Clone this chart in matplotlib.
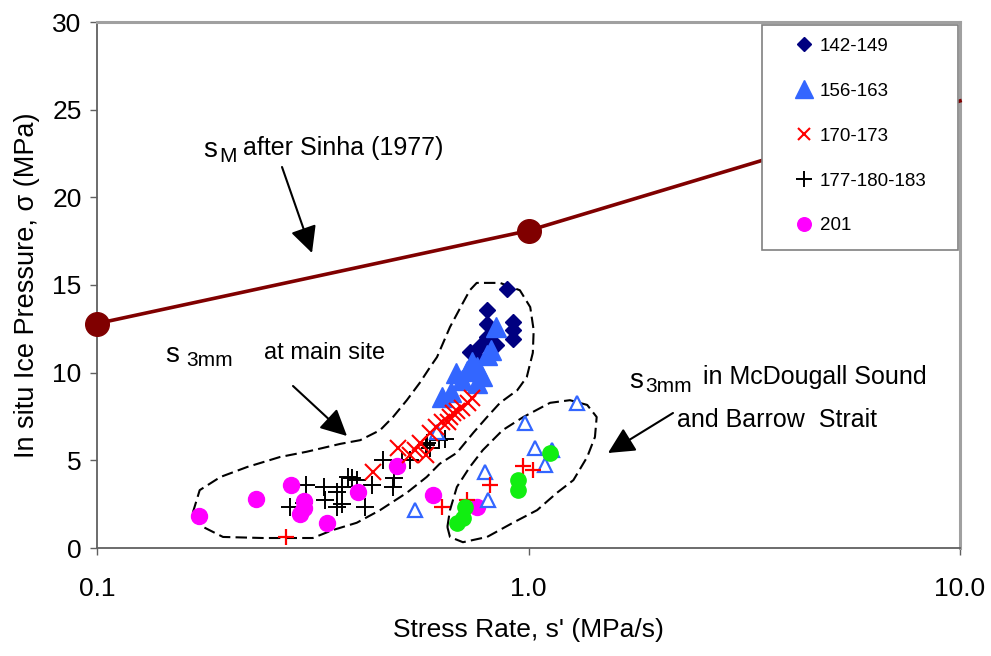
import matplotlib
matplotlib.use("Agg")
import matplotlib.pyplot as plt
from matplotlib.patches import Rectangle
import numpy as np

plt.rcParams['font.family'] = ['Liberation Sans', 'DejaVu Sans']

# ---------------- data ----------------
sinha_x = [0.1, 1.0, 10.0]
sinha_y = [12.8, 18.1, 25.5]

s142_x = [0.89, 0.80, 0.80, 0.92, 0.92, 0.92, 0.80, 0.84, 0.73, 0.77, 0.76]
s142_y = [14.8, 13.55, 12.8, 12.9, 12.45, 11.9, 12.05, 11.6, 11.2, 11.5, 10.9]

s156_x = [0.84, 0.82, 0.80, 0.76, 0.78, 0.72, 0.68, 0.76, 0.63, 0.66, 0.70, 0.74]
s156_y = [12.6, 11.3, 11.0, 10.3, 9.8, 10.1, 10.0, 9.4, 8.6, 8.9, 9.6, 10.6]

s170_x = [0.437, 0.499, 0.53, 0.546, 0.561, 0.58, 0.591, 0.61, 0.63, 0.65, 0.658,
          0.67, 0.682, 0.70, 0.726, 0.74]
s170_y = [4.35, 5.69, 5.3, 5.6, 5.97, 5.3, 6.54, 6.9, 7.2, 7.2, 7.5, 7.7, 7.8,
          8.0, 8.25, 8.55]

s177_x = [0.280, 0.305, 0.302, 0.335, 0.338, 0.359, 0.36, 0.37, 0.382, 0.39, 0.40,
          0.418, 0.433, 0.461, 0.486, 0.488, 0.51, 0.531, 0.58, 0.59, 0.62, 0.581, 0.64, 0.37]
s177_y = [2.32, 3.59, 2.55, 3.5, 2.74, 3.21, 2.36, 3.5, 4.07, 3.98, 3.88, 2.36, 3.59,
          5.02, 3.5, 3.98, 5.02, 5.02, 5.88, 5.7, 6.16, 5.97, 6.2, 2.5]

s201_x = [0.172, 0.233, 0.282, 0.301, 0.302, 0.296, 0.341, 0.403, 0.495, 0.601, 0.759]
s201_y = [1.83, 2.78, 3.59, 2.68, 2.26, 1.94, 1.41, 3.18, 4.68, 3.02, 2.36]

mcd_tri_x = [1.293, 0.981, 1.035, 1.131, 1.092, 0.793, 0.807, 0.546, 0.613]
mcd_tri_y = [8.25, 7.11, 5.69, 5.59, 4.73, 4.35, 2.74, 2.17, 6.63]

mcd_plus_x = [0.274, 0.629, 0.719, 0.814, 0.972, 1.026]
mcd_plus_y = [0.65, 2.36, 2.74, 3.59, 4.68, 4.45]

mcd_green_x = [1.121, 0.947, 0.947, 0.713, 0.706, 0.682]
mcd_green_y = [5.40, 3.88, 3.31, 2.36, 1.69, 1.41]

series_labels = ['142-149', '156-163', '170-173', '177-180-183', '201']
y_ticks = [0, 5, 10, 15, 20, 25, 30]
x_ticks = [0.1, 1.0, 10.0]
x_tick_labels = ['0.1', '1.0', '10.0']

# envelopes (axes-fraction outlines)
main_env_fx = [0.111, 0.119, 0.143, 0.174, 0.212, 0.243, 0.282, 0.305, 0.328, 0.343, 0.359,
               0.374, 0.386, 0.394, 0.409, 0.424, 0.432, 0.440, 0.467, 0.490, 0.502, 0.506,
               0.505, 0.498, 0.487, 0.467, 0.452, 0.436, 0.417, 0.397, 0.382, 0.359, 0.328,
               0.301, 0.273, 0.250, 0.192, 0.146, 0.123, 0.111]
main_env_fy = [0.067, 0.110, 0.135, 0.154, 0.173, 0.183, 0.198, 0.205, 0.224, 0.249, 0.281,
               0.314, 0.344, 0.363, 0.420, 0.466, 0.490, 0.504, 0.504, 0.490, 0.458, 0.414,
               0.371, 0.325, 0.300, 0.276, 0.249, 0.219, 0.181, 0.160, 0.135, 0.105, 0.072,
               0.048, 0.034, 0.019, 0.019, 0.021, 0.040, 0.067]
mcd_env_fx = [0.406, 0.409, 0.417, 0.432, 0.447, 0.470, 0.494, 0.525, 0.548, 0.568, 0.579,
              0.577, 0.568, 0.552, 0.533, 0.510, 0.482, 0.452, 0.424, 0.409, 0.406]
mcd_env_fy = [0.040, 0.072, 0.116, 0.154, 0.186, 0.224, 0.249, 0.276, 0.281, 0.272, 0.249,
              0.211, 0.173, 0.129, 0.105, 0.072, 0.048, 0.021, 0.011, 0.021, 0.040]

# ---------------- figure ----------------
W, H = 991, 656
fig = plt.figure(figsize=(W / 100, H / 100), dpi=100)
ax = fig.add_axes([97 / W, (656 - 548) / H, 863 / W, 526 / H])


def fp(x, y):
    return (x / W, 1 - y / H)


FS_TICK = 19
FS_ANN = 18

ax.set_xscale('log')
ax.set_xlim(0.1, 10.0)
ax.set_ylim(0, 30)

ax.plot(sinha_x, sinha_y, color='#800000', lw=2.6, marker='o', ms=17,
        markevery=[0, 1], zorder=3, clip_on=False)

ax.plot(s142_x, s142_y, ls='none', marker='D', ms=8.5, color='#000080',
        label=series_labels[0], zorder=4)
ax.plot(s156_x, s156_y, ls='none', marker='^', ms=15, color='#3366FF',
        label=series_labels[1], zorder=4)
ax.plot(s170_x, s170_y, ls='none', marker='x', ms=11, mew=1.5, color='#FF0000',
        label=series_labels[2], zorder=5)
ax.plot(s177_x, s177_y, ls='none', marker='+', ms=13, mew=1.4, color='black',
        label=series_labels[3], zorder=4)
ax.plot(s201_x, s201_y, ls='none', marker='o', ms=11.5, color='#FF00FF',
        label=series_labels[4], zorder=4)
ax.plot(mcd_tri_x, mcd_tri_y, ls='none', marker='^', ms=10, mew=1.6,
        mfc='white', mec='#3366FF', zorder=4)
ax.plot(mcd_plus_x, mcd_plus_y, ls='none', marker='+', ms=12, mew=1.6,
        color='#FF0000', zorder=4)
ax.plot(mcd_green_x, mcd_green_y, ls='none', marker='o', ms=11, color='#11EE11', zorder=4)

# envelopes
ax.plot(main_env_fx, main_env_fy, transform=ax.transAxes, color='black', lw=1.5,
        ls=(0, (5.5, 2.5)), zorder=2)
ax.plot(mcd_env_fx, mcd_env_fy, transform=ax.transAxes, color='black', lw=1.5,
        ls=(0, (5.5, 2.5)), zorder=2)

# axes styling
ax.set_yticks(y_ticks)
ax.set_yticklabels([str(v) for v in y_ticks], fontsize=FS_TICK)
ax.set_xticks(x_ticks)
ax.set_xticklabels(x_tick_labels, fontsize=FS_TICK)
ax.xaxis.set_minor_locator(matplotlib.ticker.NullLocator())
ax.tick_params(axis='y', direction='out', length=5, width=1, color='#606060', pad=6)
ax.tick_params(axis='x', direction='out', length=5, width=1, color='#606060', pad=16)
for s in ['left', 'bottom']:
    ax.spines[s].set_color('#606060')
    ax.spines[s].set_linewidth(1.3)
for s in ['top', 'right']:
    ax.spines[s].set_color('#A0A0A0')
    ax.spines[s].set_linewidth(2.2)

ax.set_ylabel('In situ Ice Pressure, σ (MPa)', fontsize=19.5, labelpad=9)
ax.set_xlabel("Stress Rate, s' (MPa/s)", fontsize=19, labelpad=12)

# legend
ax.add_patch(Rectangle((0.771, 0.567), 0.227, 0.427, transform=ax.transAxes,
                       facecolor='white', edgecolor='#808080', lw=1.2, zorder=6))
leg = ax.legend(loc='upper left', bbox_to_anchor=(0.808, 0.970), frameon=False,
                fontsize=13.5, borderpad=0, borderaxespad=0, handlelength=1.0,
                handletextpad=0.35, labelspacing=1.48, numpoints=1, markerscale=0.85)
leg.set_zorder(7)

# annotations
tk = dict(color='black', zorder=8)
fig.text(*fp(203, 150), 's', fontsize=20, va='center', ha='left', **tk)
fig.text(*fp(219, 156), 'M', fontsize=15, va='center', ha='left', **tk)
fig.text(*fp(243, 148), 'after Sinha (1977)', fontsize=FS_ANN, va='center', ha='left', **tk)

fig.text(*fp(165, 355), 's', fontsize=20, va='center', ha='left', **tk)
fig.text(*fp(186, 360), '3mm', fontsize=15, va='center', ha='left', **tk)
fig.text(*fp(264, 353), 'at main site', fontsize=17, va='center', ha='left', **tk)

fig.text(*fp(629, 381), 's', fontsize=20, va='center', ha='left', **tk)
fig.text(*fp(645, 386), '3mm', fontsize=15, va='center', ha='left', **tk)
fig.text(*fp(703, 377), 'in McDougall Sound', fontsize=FS_ANN, va='center', ha='left', **tk)
fig.text(*fp(677, 420), 'and Barrow  Strait', fontsize=FS_ANN, va='center', ha='left', **tk)

ap = dict(arrowstyle='-|>,head_length=0.9,head_width=0.45', color='black', lw=1.5,
          mutation_scale=18, shrinkA=0, shrinkB=0)
ax.annotate('', xy=fp(312, 253), xycoords='figure fraction', xytext=fp(282, 167),
            textcoords='figure fraction', arrowprops=ap)
ax.annotate('', xy=fp(347, 436), xycoords='figure fraction', xytext=fp(293, 386),
            textcoords='figure fraction', arrowprops=ap)
ax.annotate('', xy=fp(608, 453), xycoords='figure fraction', xytext=fp(673, 413),
            textcoords='figure fraction', arrowprops=ap)

fig.savefig('out.png', dpi=100)
